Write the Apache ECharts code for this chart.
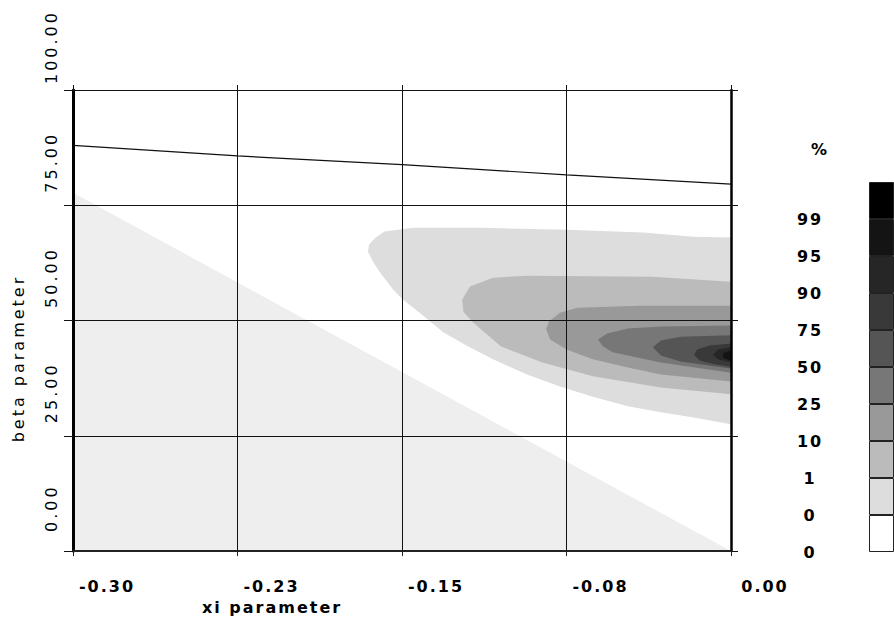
<!DOCTYPE html>
<html><head><meta charset="utf-8">
<script src="https://cdn.jsdelivr.net/npm/echarts@6/dist/echarts.min.js"></script>
<style>
html,body{margin:0;padding:0;background:#fff}
#chart{width:894px;height:620px}
#chart text{letter-spacing:3px}
#chart text[style*="bold"]{letter-spacing:2px}
</style>
</head><body><div id="chart"></div>
<script>
// ---- data ----
const xTickLabels = ['-0.30','-0.23','-0.15','-0.08','0.00'];
const yTickLabels = ['0.00','25.00','50.00','75.00','100.00'];
// colour-bar boundary labels, bottom boundary first
const levelLabels = ['0','0','1','10','25','50','75','90','95','99'];
const levelColors = ['#ffffff','#dddddd','#bbbbbb','#999999','#777777','#555555','#393939','#262626','#141414','#000000'];

const boundaryX = [-0.3,-0.225,-0.15,-0.075,0];
const boundaryY = [88.0,85.7,83.8,81.6,79.6];

const regionTriangle = [[-0.3,0],[-0.3,77.7],[0,0]];
const contour1 = [[0,68.0],[-0.017,68.2],[-0.040,69.1],[-0.075,69.7],[-0.114,70.1],[-0.145,70.1],[-0.158,69.3],[-0.162,68.0],[-0.165,66.5],[-0.1655,64.9],[-0.163,62.6],[-0.160,60.4],[-0.154,56.7],[-0.1495,54.5],[-0.142,51.7],[-0.131,47.4],[-0.120,44.4],[-0.1085,41.6],[-0.093,38.3],[-0.078,35.7],[-0.063,33.5],[-0.047,31.4],[-0.032,30.1],[-0.017,29.0],[0,27.5]];
const contour10 = [[0,58.4],[-0.036,59.5],[-0.093,59.7],[-0.1085,59.3],[-0.119,57.4],[-0.1226,54.5],[-0.122,51.9],[-0.1176,49.6],[-0.105,44.4],[-0.086,40.9],[-0.063,37.9],[-0.032,35.5],[0,34.0]];
const contour25 = [[0,53.2],[-0.0415,53.2],[-0.070,52.8],[-0.078,51.7],[-0.083,49.8],[-0.0843,48.1],[-0.0825,45.9],[-0.075,43.7],[-0.063,41.6],[-0.047,39.8],[-0.032,38.3],[0,36.8]];
const contour50 = [[0,48.9],[-0.032,48.7],[-0.047,48.3],[-0.0565,47.2],[-0.0606,45.9],[-0.0584,44.4],[-0.054,43.1],[-0.032,40.9],[0,38.7]];
const contour75 = [[0,46.8],[-0.023,46.5],[-0.032,45.7],[-0.0356,44.2],[-0.032,42.4],[-0.023,41.1],[0,39.6]];
const contour90 = [[0,45.0],[-0.0096,44.6],[-0.0155,43.7],[-0.0169,42.6],[-0.0141,41.3],[-0.0073,40.5],[0,40.0]];
const contour95 = [[0,44.2],[-0.0059,43.7],[-0.0082,42.6],[-0.0059,41.6],[0,40.9]];
const contour99 = [[0,43.5],[-0.0036,42.9],[-0.0036,42.0],[0,41.3]];

// ---- chart ----
const FONT = 'DejaVu Sans';
const chart = echarts.init(document.getElementById('chart'), null, {renderer:'svg'});

function poly(pts, color) {
  return {
    type:'custom', coordinateSystem:'cartesian2d', xAxisIndex:0, yAxisIndex:0,
    data: pts, silent:true, z:1,
    renderItem: function(params, api){
      if (params.dataIndex !== 0) return;
      const points = pts.map(p => api.coord(p));
      return {type:'polygon', shape:{points:points}, style:{fill:color, stroke:null}};
    }
  };
}

const polys = [
  [regionTriangle,'#eeeeee'],
  [contour1, levelColors[1]],
  [contour10, levelColors[2]],
  [contour25, levelColors[3]],
  [contour50, levelColors[4]],
  [contour75, levelColors[5]],
  [contour90, levelColors[6]],
  [contour95, levelColors[7]],
  [contour99, levelColors[8]]
].map(a => poly(a[0], a[1]));

const barSeries = levelColors.map(c => ({
  type:'bar', stack:'cb', xAxisIndex:2, yAxisIndex:2, data:[1], barWidth:'100%',
  silent:true, itemStyle:{color:c, borderColor:'#222', borderWidth:1}
}));

const txt = {fontFamily:FONT, fontSize:16, color:'#000', fontWeight:'normal'};
const txtB = {fontFamily:FONT, fontSize:16, color:'#000', fontWeight:'bold'};

chart.setOption({
  animation:false,
  backgroundColor:'#fff',
  title:{text:'%', left:806, top:136, textStyle:Object.assign({}, txtB)},
  grid:[
    {left:73, top:90, width:658, height:462},
    {left:869, top:182, width:40, height:370}
  ],
  xAxis:[
    {gridIndex:0, type:'value', position:'bottom', min:-0.3, max:0, interval:0.075, z:5,
     axisLine:{show:true, onZero:false, lineStyle:{color:'#222', width:2}},
     axisTick:{show:true, length:5, lineStyle:{color:'#222', width:1}},
     splitLine:{show:true, lineStyle:{color:'#111', width:1}},
     axisLabel:Object.assign({showMinLabel:true, showMaxLabel:true, margin:35, align:'center', verticalAlign:'middle', padding:[0,0,0,68],
       formatter: v => xTickLabels[Math.round((v+0.3)/0.075)]}, txtB),
     name:'xi parameter', nameLocation:'middle', nameGap:54,
     nameTextStyle:Object.assign({align:'center', verticalAlign:'middle', padding:[0,260,0,0]}, txtB)
    },
    {gridIndex:0, type:'value', position:'top', min:-0.3, max:0, interval:0.075, z:5,
     axisLine:{show:true, onZero:false, lineStyle:{color:'#111', width:1}},
     axisTick:{show:true, length:5, lineStyle:{color:'#111', width:1}},
     splitLine:{show:false}, axisLabel:{show:false}
    },
    {gridIndex:1, type:'category', data:[''], show:false}
  ],
  yAxis:[
    {gridIndex:0, type:'value', position:'left', min:0, max:100, interval:25, z:5,
     axisLine:{show:true, onZero:false, lineStyle:{color:'#000', width:3}},
     axisTick:{show:true, length:9, lineStyle:{color:'#111', width:1}},
     splitLine:{show:true, lineStyle:{color:'#111', width:1}},
     axisLabel:Object.assign({showMinLabel:true, showMaxLabel:true, rotate:90, margin:22, align:'center', verticalAlign:'middle', padding:[0,0,0,86],
       formatter: v => yTickLabels[Math.round(v/25)]}, txt),
     name:'beta parameter', nameLocation:'middle', nameGap:55, nameRotate:90,
     nameTextStyle:Object.assign({align:'center', verticalAlign:'middle', padding:[0,76,0,0]}, txt)
    },
    {gridIndex:0, type:'value', position:'right', min:0, max:100, interval:25, z:5,
     axisLine:{show:true, onZero:false, lineStyle:{color:'#000', width:2.5}},
     axisTick:{show:true, length:7, lineStyle:{color:'#111', width:1}},
     splitLine:{show:false}, axisLabel:{show:false}
    },
    {gridIndex:1, type:'value', min:0, max:10, interval:1,
     axisLine:{show:false}, axisTick:{show:false}, splitLine:{show:false},
     axisLabel:Object.assign({showMinLabel:true, showMaxLabel:true, margin:59, align:'center', verticalAlign:'middle', padding:[20,0,0,0],
       formatter: v => (levelLabels[v] !== undefined ? levelLabels[v] : '')}, txtB)
    }
  ],
  series: polys.concat([
    {type:'line', xAxisIndex:0, yAxisIndex:0, data: boundaryX.map((x,i)=>[x, boundaryY[i]]),
     symbol:'none', silent:true, z:6, lineStyle:{color:'#111', width:1.2}}
  ]).concat(barSeries)
});
</script>
</body></html>
